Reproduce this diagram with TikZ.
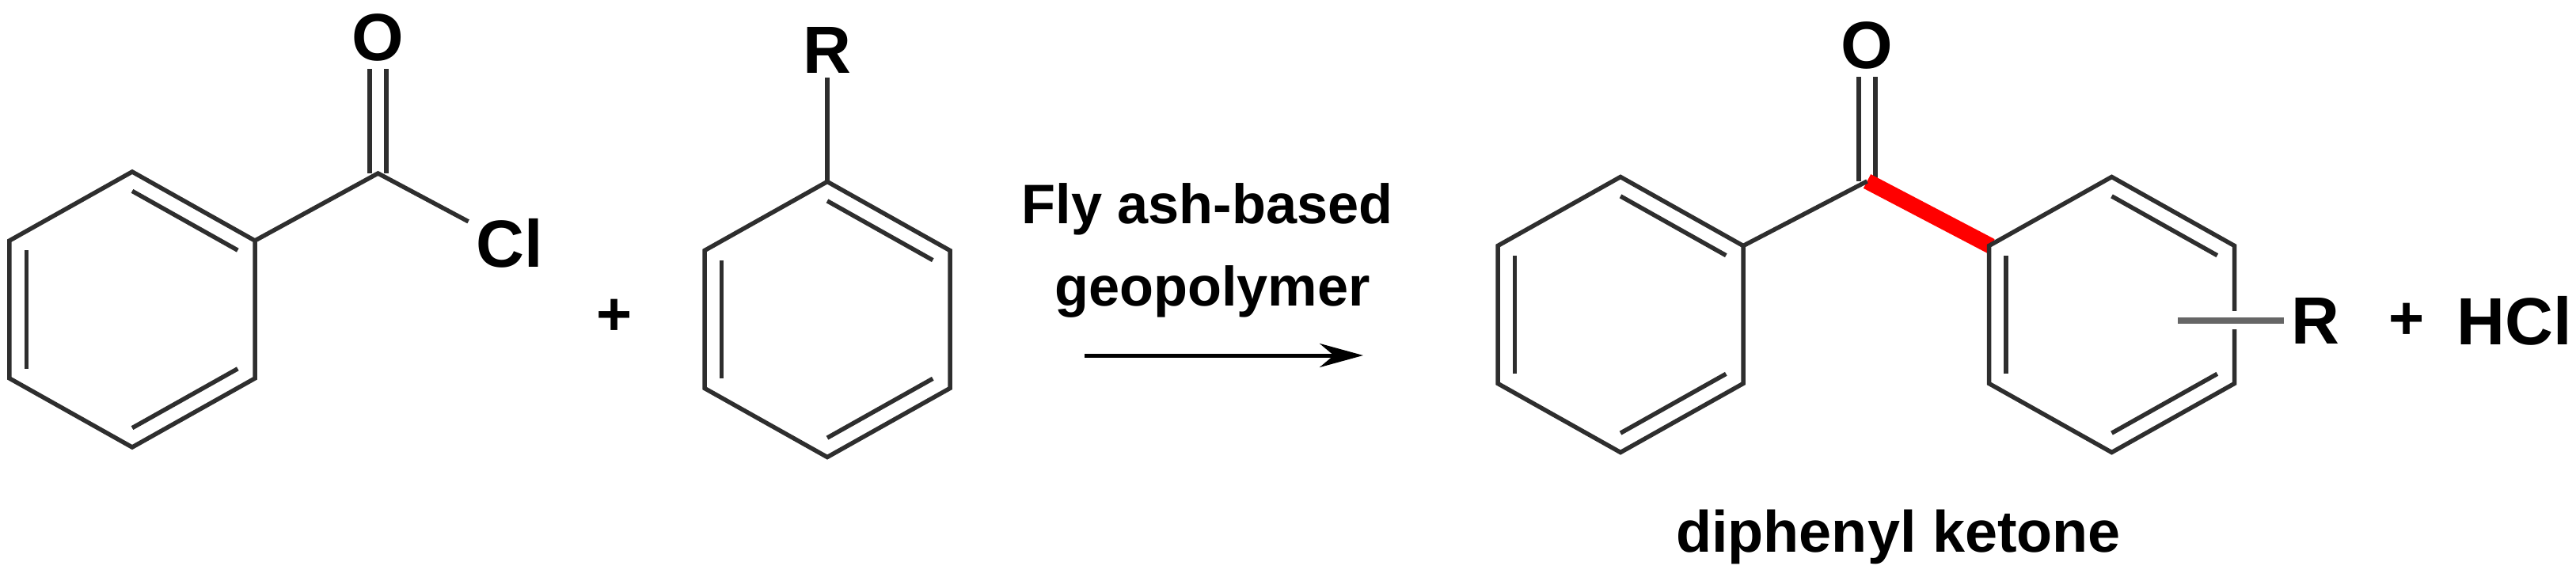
\documentclass[tikz,border=0pt]{standalone}
\usepackage{fontspec}
\setmainfont{Liberation Sans}
\usetikzlibrary{arrows.meta,calc}

\definecolor{bondgray}{HTML}{2E2E2E}
\definecolor{substgray}{HTML}{666666}

\tikzset{
  bond/.style={line width=0.055cm, draw=bondgray},
  dblbond/.style={line width=0.055cm, draw=bondgray, double, double distance=0.155cm},
  redbond/.style={line width=0.2cm, draw=red},
  subst/.style={line width=0.08cm, draw=substgray, preaction={draw=white, line width=0.23cm}},
  rxnarrow/.style={line width=0.05cm, draw=black, -{Stealth[length=0.55cm,width=0.3cm]}},
  atom/.style={font=\fontsize{24}{28}\selectfont\bfseries, inner sep=0.09cm},
  plussign/.style={font=\fontsize{22}{26}\selectfont\bfseries, inner sep=0pt},
  caption/.style={font=\fontsize{20}{24}\selectfont\bfseries, inner sep=0pt, anchor=base},
  namelabel/.style={font=\fontsize{21}{25}\selectfont\bfseries, inner sep=0pt, anchor=base}
}

% Benzene ring: name, centre x, centre y
\newcommand{\benzene}[3]{
  \coordinate (#1c) at (#2,#3);
  \coordinate (#1t) at (#2,#3+1.74);
  \coordinate (#1ur) at (#2+1.55,#3+0.87);
  \coordinate (#1lr) at (#2+1.55,#3-0.87);
  \coordinate (#1b) at (#2,#3-1.74);
  \coordinate (#1ll) at (#2-1.55,#3-0.87);
  \coordinate (#1ul) at (#2-1.55,#3+0.87);
  \draw[bond] (#1t) -- (#1ur) -- (#1lr) -- (#1b) -- (#1ll) -- (#1ul) -- cycle;
  \draw[bond] ($(#1c)!0.86!(#1t)$) -- ($(#1c)!0.86!(#1ur)$);
  \draw[bond] ($(#1c)!0.86!(#1lr)$) -- ($(#1c)!0.86!(#1b)$);
  \draw[bond] ($(#1c)!0.86!(#1ll)$) -- ($(#1c)!0.86!(#1ul)$);
}

\begin{document}
\begin{tikzpicture}

  % Fix the page size
  \useasboundingbox (0,0) rectangle (32.54,7.33);

  % Benzoyl chloride
  \coordinate (CO1) at (4.775,5.14);
  \node[atom] (O1) at (4.775,6.855) {O};
  \node[atom] (Cl1) at (6.435,4.255) {Cl};
  \draw[dblbond] (CO1) -- (O1);
  \benzene{A}{1.67}{3.42}
  \draw[bond] (Aur) -- (CO1) -- (Cl1);

  \node[plussign] (plus1) at (7.76,3.325) {+};

  % Substituted benzene
  \benzene{B}{10.45}{3.295}
  \node[atom, inner sep=0.05cm] (R1) at (10.45,6.695) {R};
  \draw[bond] (Bt) -- (R1);

  % Catalyst and reaction arrow
  \node[caption] (cat1) at (15.25,4.50) {Fly ash-based};
  \node[caption] (cat2) at (15.315,3.46) {geopolymer};
  \coordinate (arrowstart) at (13.70,2.84);
  \coordinate (arrowend) at (17.22,2.84);
  \draw[rxnarrow] (arrowstart) -- (arrowend);

  % Diphenyl ketone
  \coordinate (CO2) at (23.585,5.04);
  \node[atom] (O2) at (23.585,6.755) {O};
  \draw[dblbond] (CO2) -- (O2);
  \coordinate (Dredend) at (25.15,4.22);
  \draw[redbond] (CO2) -- (Dredend);
  \benzene{C}{20.47}{3.355}
  \benzene{D}{26.675}{3.355}
  \draw[bond] (Cur) -- (CO2);

  % Free substituent across the ring
  \coordinate (Rfree) at (27.51,3.28);
  \node[atom] (R2) at (29.25,3.28) {R};
  \draw[subst] (Rfree) -- (R2);

  % By-product and name
  \node[plussign] (plus2) at (30.40,3.27) {+};
  \node[atom] (HCl) at (31.76,3.28) {HCl};
  \node[namelabel] (name) at (23.98,0.36) {diphenyl ketone};

\end{tikzpicture}
\end{document}
